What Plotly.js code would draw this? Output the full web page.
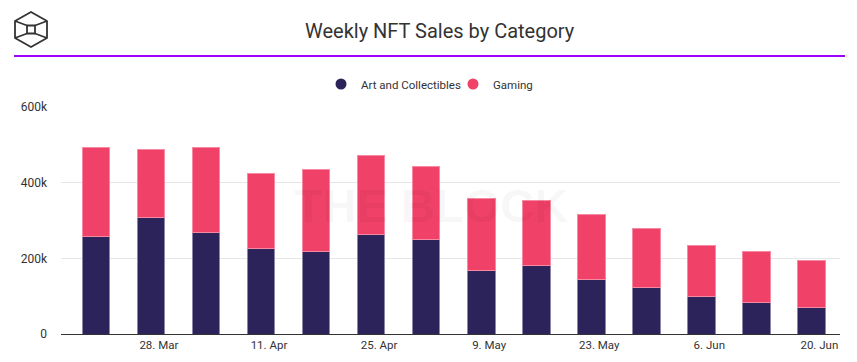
<!DOCTYPE html>
<html>
<head>
<meta charset="utf-8">
<script src="https://cdn.plot.ly/plotly-3.0.1.min.js"></script>
<style>
  html, body { margin: 0; padding: 0; background: #fff; }
  #chart { width: 857px; height: 362px; position: relative; }
  #logo { position: absolute; left: 12px; top: 10px; z-index: 10; }
</style>
</head>
<body>
<div id="chart"></div>
<svg id="logo" width="40" height="40" viewBox="0 0 40 40">
  <g fill="none" stroke="#333" stroke-width="1.8" stroke-linejoin="round">
    <polygon points="19,2 35,11 35,28 19,37 3,28 3,11"/>
    <rect x="15" y="15.5" width="8" height="8"/>
    <line x1="3" y1="11" x2="15" y2="15.5"/>
    <line x1="35" y1="11" x2="23" y2="15.5"/>
    <line x1="3" y1="28" x2="15" y2="23.5"/>
    <line x1="35" y1="28" x2="23" y2="23.5"/>
  </g>
</svg>
<script>
const weeks = ["2022-03-20","2022-03-27","2022-04-03","2022-04-10","2022-04-17","2022-04-24","2022-05-01","2022-05-08","2022-05-15","2022-05-22","2022-05-29","2022-06-05","2022-06-12","2022-06-19"];
const artAndCollectibles = [259000, 307000, 267000, 225000, 217000, 264000, 249000, 169000, 182000, 145000, 124000, 98000, 82000, 69000];
const gaming = [233000, 182000, 227000, 198000, 217000, 209000, 195000, 189000, 170000, 172000, 156000, 136000, 135000, 124000];
const tickDates = ["2022-03-28","2022-04-11","2022-04-25","2022-05-09","2022-05-23","2022-06-06","2022-06-20"];
const tickLabels = ["28. Mar","11. Apr","25. Apr","9. May","23. May","6. Jun","20. Jun"];
const yTickVals = [0, 200000, 400000, 600000];
const yTickLabels = ["0","200k","400k","600k"];

const artColor = "#2b2359";
const gamingColor = "#f04168";
const font = "Roboto, 'Open Sans', sans-serif";

const traces = [
  {type: "bar", x: weeks, y: artAndCollectibles, name: "Art and Collectibles", showlegend: false,
   marker: {color: artColor, line: {color: "#8e86aa", width: 1}}, hoverinfo: "skip"},
  {type: "bar", x: weeks, y: gaming, name: "Gaming", showlegend: false,
   marker: {color: gamingColor, line: {color: "#f78aa2", width: 1}}, hoverinfo: "skip"},
  {type: "scatter", mode: "markers", x: [null], y: [null], name: "Art and Collectibles",
   marker: {color: artColor, size: 11, symbol: "circle"}},
  {type: "scatter", mode: "markers", x: [null], y: [null], name: "Gaming",
   marker: {color: gamingColor, size: 11, symbol: "circle"}}
];

const layout = {
  width: 857, height: 362,
  margin: {l: 61, r: 17, t: 107, b: 28, autoexpand: false},
  paper_bgcolor: "#fff", plot_bgcolor: "#fff",
  font: {family: font, color: "#333", size: 12},
  barmode: "stack", bargap: 0.5,
  title: {text: "Weekly NFT Sales by Category", font: {family: font, size: 20, color: "#333"},
          xref: "container", x: 0.513, xanchor: "center", yref: "container", y: 1 - 31/362, yanchor: "middle"},
  legend: {orientation: "h", traceorder: "normal", itemwidth: 30, entrywidth: 87, entrywidthmode: "pixels",
           x: (321-61)/779, xanchor: "left", y: (334-84)/227, yanchor: "middle",
           font: {family: font, size: 11.5, color: "#333"}},
  xaxis: {type: "date", range: ["2022-03-15 13:12", "2022-06-22 15:00"], tickmode: "array", tickvals: tickDates, ticktext: tickLabels,
          tickangle: 0, showgrid: false, showline: true, linecolor: "#333", linewidth: 1, ticks: "", tickfont: {size: 11.5, color: "#333"}, zeroline: false},
  yaxis: {range: [0, 600000], tickmode: "array", tickvals: yTickVals, ticktext: yTickLabels, showgrid: true, gridcolor: "#e6e6e6",
          gridwidth: 1, zeroline: false, ticks: "", ticklabelstandoff: 13, tickfont: {size: 12, color: "#333"}},
  shapes: [
    {type: "line", xref: "paper", yref: "paper", x0: -0.0603, x1: 1.0064, y0: 1.2247, y1: 1.2247,
     line: {color: "#a000ff", width: 2}}
  ],
  annotations: [
    {text: "<b>THE BLOCK</b>", xref: "paper", yref: "paper", x: (431-61)/779, y: (334-205)/227, xanchor: "center", yanchor: "middle",
     showarrow: false, font: {family: "'Liberation Sans', Arial, sans-serif", size: 47, color: "rgba(0,0,0,0.045)"}}
  ]
};

Plotly.newPlot("chart", traces, layout, {staticPlot: true, displayModeBar: false});
</script>
</body>
</html>
